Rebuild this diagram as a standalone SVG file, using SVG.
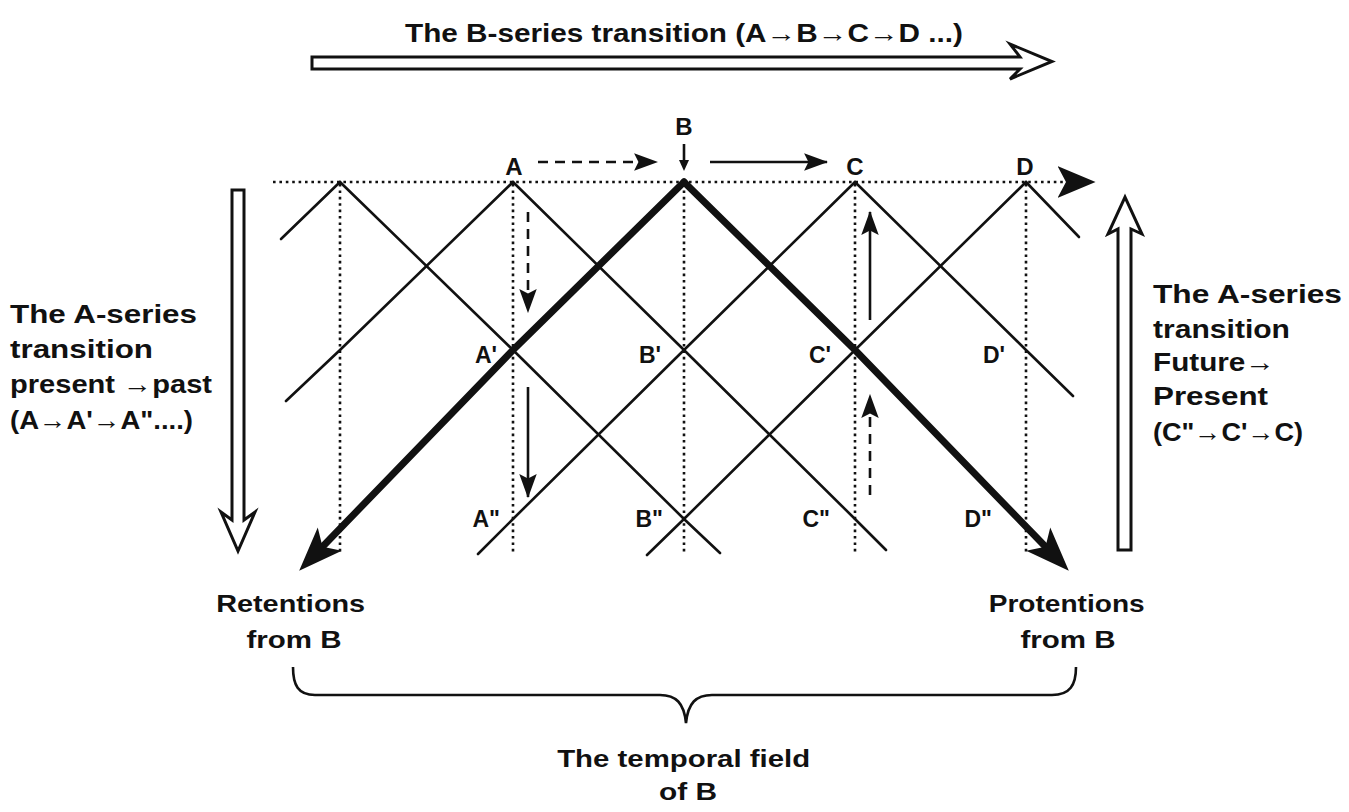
<svg xmlns="http://www.w3.org/2000/svg" width="1349" height="812" viewBox="0 0 1349 812">
<style>
.t{font-family:"Liberation Sans",Arial,sans-serif;font-weight:bold;fill:#111}
.thin{stroke:#111;stroke-width:2.6;fill:none;stroke-linecap:round}
.thick{stroke:#111;stroke-width:7;fill:none;stroke-linecap:round}
.dot{stroke:#111;stroke-width:2.6;fill:none;stroke-dasharray:2.6 3.8}
.dash{stroke:#111;stroke-width:2.6;fill:none;stroke-dasharray:10 7}
.sol{stroke:#111;stroke-width:2.6;fill:none}
.hollow{fill:#fff;stroke:#111;stroke-width:3;stroke-linejoin:miter}
</style>
<defs>
<marker id="ah" markerUnits="userSpaceOnUse" markerWidth="24" markerHeight="18" viewBox="0 0 22 16" refX="21" refY="8" orient="auto">
<path d="M0,0 L22,8 L0,16 L4,8 z" fill="#111"/>
</marker>
<marker id="big" markerUnits="userSpaceOnUse" markerWidth="44" markerHeight="34" viewBox="0 0 42 32" refX="17" refY="16" orient="auto">
<path d="M0,0 L42,16 L0,32 L10,16 z" fill="#111"/>
</marker>
<marker id="dotah" markerUnits="userSpaceOnUse" markerWidth="38" markerHeight="32" viewBox="0 0 36 30" refX="8" refY="15" orient="auto">
<path d="M0,0 L36,15 L0,30 L8,15 z" fill="#111"/>
</marker>
</defs>

<rect width="1349" height="812" fill="#fff"/>

<g id="title">
<text class="t" x="405" y="42" font-size="25" textLength="558" lengthAdjust="spacingAndGlyphs">The B-series transition (A→B→C→D ...)</text>
<polygon class="hollow" points="312,57 1020,57 1010,44 1052,61.5 1010,79 1020,69 312,69"/>
</g>

<g id="left-transition">
<polygon class="hollow" points="232,190 244,190 244,520 255,512 238,551 221,512 232,520"/>
<text class="t" font-size="26">
<tspan x="10" y="323" textLength="187" lengthAdjust="spacingAndGlyphs">The A-series</tspan>
<tspan x="10" y="358" textLength="143" lengthAdjust="spacingAndGlyphs">transition</tspan>
<tspan x="10" y="393" textLength="202" lengthAdjust="spacingAndGlyphs">present →past</tspan>
<tspan x="10" y="429" textLength="183" lengthAdjust="spacingAndGlyphs">(A→A'→A"....)</tspan>
</text>
</g>

<g id="right-transition">
<polygon class="hollow" points="1118,550 1131,550 1131,229 1142,234 1125,197 1108,234 1118,229"/>
<text class="t" font-size="26">
<tspan x="1153" y="303" textLength="189" lengthAdjust="spacingAndGlyphs">The A-series</tspan>
<tspan x="1153" y="338" textLength="137" lengthAdjust="spacingAndGlyphs">transition</tspan>
<tspan x="1153" y="371" textLength="122" lengthAdjust="spacingAndGlyphs">Future→</tspan>
<tspan x="1153" y="405" textLength="115" lengthAdjust="spacingAndGlyphs">Present</tspan>
<tspan x="1153" y="441" textLength="150" lengthAdjust="spacingAndGlyphs">(C"→C'→C)</tspan>
</text>
</g>

<g id="grid">
<path class="dot" d="M273,182 H1066" marker-end="url(#dotah)"/>
<path class="dot" d="M340,184 V554 M513,184 V554 M684,184 V552 M855,184 V552 M1026,184 V552"/>
<path class="thin" d="M340,182 L281,239"/>
<path class="thin" d="M340,182 L513,350 L684,519 L720,553"/>
<path class="thin" d="M513,182 L340,350 L286,401"/>
<path class="thin" d="M513,182 L684,350 L855,519 L886,550"/>
<path class="thin" d="M855,182 L684,350 L513,519 L478,554"/>
<path class="thin" d="M855,182 L1026,350 L1073,396"/>
<path class="thin" d="M1026,182 L855,350 L684,519 L647,555"/>
<path class="thin" d="M1026,182 L1079,237"/>
<path class="thick" d="M684,182 L513,350 L317.4,552" marker-end="url(#big)"/>
<path class="thick" d="M684,182 L855,350 L1050.6,552" marker-end="url(#big)"/>
</g>

<g id="point-labels" class="t">
<text x="514" y="175" font-size="24" text-anchor="middle">A</text>
<text x="684" y="135" font-size="24" text-anchor="middle">B</text>
<text x="855" y="175" font-size="24" text-anchor="middle">C</text>
<text x="1025" y="175" font-size="24" text-anchor="middle">D</text>
<text x="497" y="363" font-size="23" text-anchor="end">A'</text>
<text x="661" y="363" font-size="23" text-anchor="end">B'</text>
<text x="831" y="363" font-size="23" text-anchor="end">C'</text>
<text x="1005" y="363" font-size="23" text-anchor="end">D'</text>
<text x="500" y="527" font-size="23" text-anchor="end">A"</text>
<text x="663" y="527" font-size="23" text-anchor="end">B"</text>
<text x="830" y="527" font-size="23" text-anchor="end">C"</text>
<text x="992" y="527" font-size="23" text-anchor="end">D"</text>
</g>

<g id="connectors">
<path class="dash" d="M538,162 H657" marker-end="url(#ah)"/>
<path class="sol" d="M710,162 H827" marker-end="url(#ah)"/>
<path class="sol" d="M684,144 V162"/>
<polygon points="679,160 689,160 684,171" fill="#111"/>
<path class="dash" d="M528,212 V312" marker-end="url(#ah)"/>
<path class="sol" d="M528,387 V497" marker-end="url(#ah)"/>
<path class="sol" d="M870,320 V212" marker-end="url(#ah)"/>
<path class="dash" d="M870,495 V395" marker-end="url(#ah)"/>
</g>

<g id="bottom-labels" class="t">
<text font-size="24" text-anchor="middle">
<tspan x="294" y="612" textLength="149" lengthAdjust="spacingAndGlyphs">Retentions</tspan>
<tspan x="294" y="648" textLength="95" lengthAdjust="spacingAndGlyphs">from B</tspan>
</text>
<text font-size="24" text-anchor="middle">
<tspan x="1070" y="612" textLength="156" lengthAdjust="spacingAndGlyphs">Protentions</tspan>
<tspan x="1068" y="648" textLength="95" lengthAdjust="spacingAndGlyphs">from B</tspan>
</text>
</g>

<g id="temporal-field">
<path class="sol" d="M293,667 C293,685 298,695 315,695 L660,695 C676,695 684,703 686,723 C688,703 696,695 712,695 L1052,695 C1070,695 1076,685 1076,667"/>
<text class="t" font-size="24" text-anchor="middle">
<tspan x="687" y="767" textLength="253" lengthAdjust="spacingAndGlyphs">The temporal field</tspan>
<tspan x="688" y="800" textLength="58" lengthAdjust="spacingAndGlyphs">of B</tspan>
</text>
</g>
</svg>
